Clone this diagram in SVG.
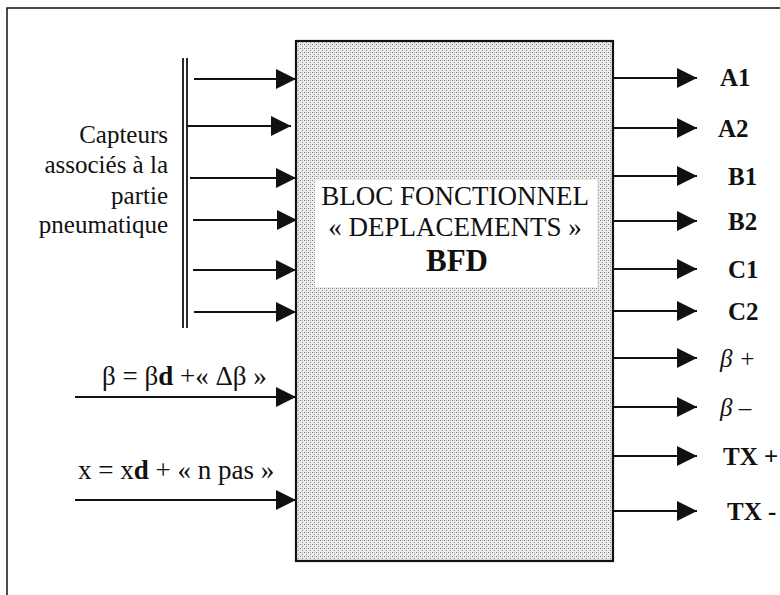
<svg xmlns="http://www.w3.org/2000/svg" width="780" height="595" viewBox="0 0 780 595" font-family="'Liberation Serif', 'DejaVu Serif', serif">
<style>
text{font-family:'Liberation Serif','DejaVu Serif',serif;fill:#111}
.t{font-size:25px}
.m{font-size:27px}
.e{font-size:27px}
.b{font-size:25px;font-weight:bold}
.i{font-size:25px;font-style:italic}
.ln{stroke:#111;stroke-width:1.8;fill:none}
.arr{stroke:#111;stroke-width:1.8;fill:none;marker-end:url(#ah)}
</style>
<defs>
<marker id="ah" markerUnits="userSpaceOnUse" markerWidth="20" markerHeight="20" refX="20" refY="10" orient="auto" viewBox="0 0 20 20">
<path d="M0,0 L20,10 L0,20 z" fill="#111"/>
</marker>
<pattern id="stip" width="4" height="4" patternUnits="userSpaceOnUse">
<rect width="4" height="4" fill="#ececec"/>
<rect x="0" y="0" width="1" height="1" fill="#777"/>
<rect x="2" y="2" width="1" height="1" fill="#888"/>
<rect x="2" y="0" width="1" height="1" fill="#bbb"/>
</pattern>
</defs>
<rect width="780" height="595" fill="#fff"/>
<rect id="frame" x="7" y="8" width="800" height="620" fill="none" stroke="#111" stroke-width="1.5"/>

<g id="block">
<rect x="296" y="41" width="317" height="520" fill="url(#stip)" stroke="#111" stroke-width="2.2"/>
<rect x="315" y="180" width="282" height="107" fill="#fff"/>
<text class="m" x="455" y="205" text-anchor="middle">BLOC FONCTIONNEL</text>
<text class="m" x="455" y="236" text-anchor="middle">« DEPLACEMENTS »</text>
<text x="457" y="271" text-anchor="middle" style="font-size:31px;font-weight:bold">BFD</text>
</g>

<g id="sensors">
<line class="ln" x1="183" y1="58" x2="183" y2="328"/>
<line class="ln" x1="187" y1="58" x2="187" y2="328"/>
<text class="t" text-anchor="end" x="168" y="143">Capteurs</text>
<text class="t" text-anchor="end" x="168" y="173">associés à la</text>
<text class="t" text-anchor="end" x="168" y="204">partie</text>
<text class="t" text-anchor="end" x="168" y="233">pneumatique</text>
</g>

<g id="input-beta">
<text class="e" x="102" y="385">β = β<tspan font-weight="bold">d</tspan> +« Δβ »</text>
</g>
<g id="input-x">
<text class="e" x="78" y="479">x = x<tspan font-weight="bold">d</tspan> + « n pas »</text>
</g>

<g id="outputs">
<text class="b" x="720" y="86">A1</text>
<text class="b" x="718" y="137">A2</text>
<text class="b" x="728" y="185">B1</text>
<text class="b" x="728" y="230">B2</text>
<text class="b" x="728" y="278">C1</text>
<text class="b" x="728" y="320">C2</text>
<text class="i" x="720" y="367">β +</text>
<text class="i" x="720" y="416">β –</text>
<text class="b" x="723" y="465">TX +</text>
<text class="b" x="727" y="520">TX -</text>
</g>

<g id="connectors">
<line class="arr" x1="194" y1="79" x2="296" y2="79"/>
<line class="arr" x1="187" y1="126" x2="291" y2="126"/>
<line class="arr" x1="190" y1="178" x2="296" y2="178"/>
<line class="arr" x1="193" y1="220" x2="297" y2="220"/>
<line class="arr" x1="193" y1="270" x2="296" y2="270"/>
<line class="arr" x1="194" y1="312" x2="296" y2="312"/>
<line class="arr" x1="75" y1="397" x2="296" y2="397"/>
<line class="arr" x1="75" y1="500" x2="296" y2="500"/>
<line class="arr" x1="613" y1="78" x2="697" y2="78"/>
<line class="arr" x1="613" y1="128" x2="697" y2="128"/>
<line class="arr" x1="613" y1="176" x2="697" y2="176"/>
<line class="arr" x1="613" y1="221" x2="697" y2="221"/>
<line class="arr" x1="613" y1="269" x2="697" y2="269"/>
<line class="arr" x1="613" y1="311" x2="697" y2="311"/>
<line class="arr" x1="613" y1="358" x2="697" y2="358"/>
<line class="arr" x1="613" y1="407" x2="697" y2="407"/>
<line class="arr" x1="613" y1="456" x2="697" y2="456"/>
<line class="arr" x1="613" y1="511" x2="697" y2="511"/>
</g>
</svg>
